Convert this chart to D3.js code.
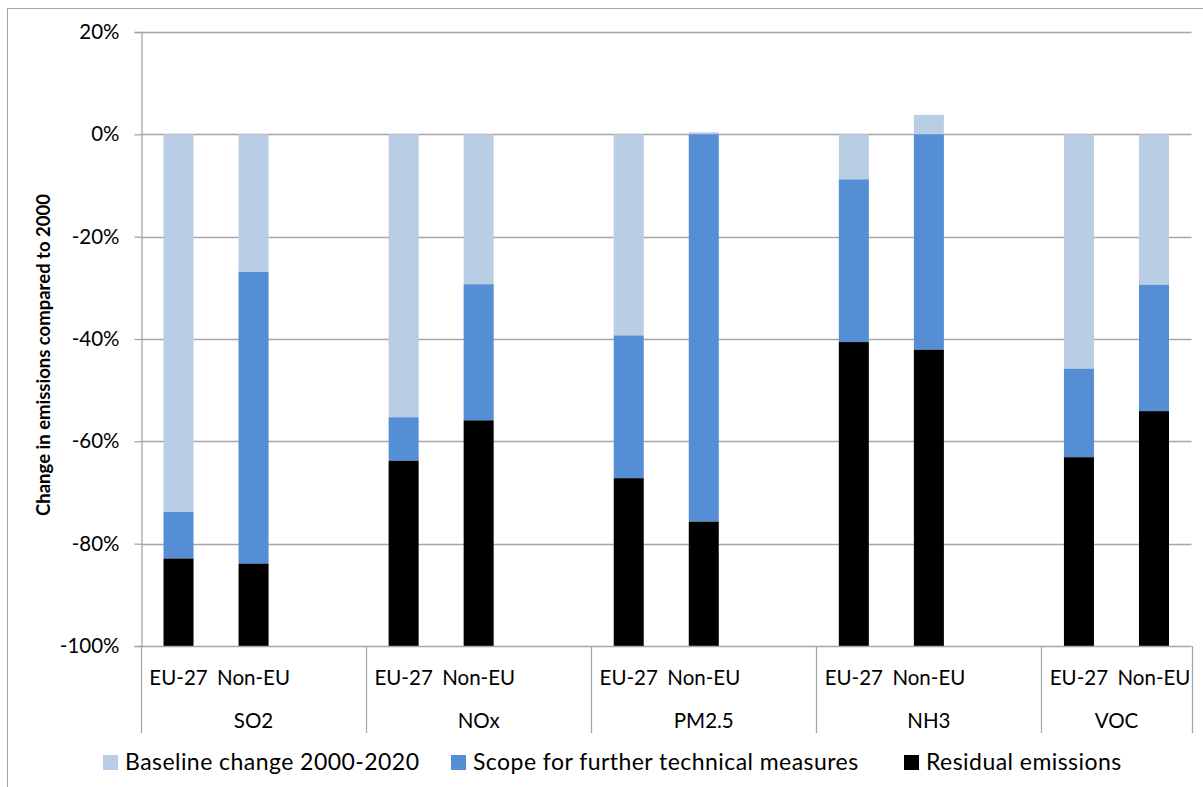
<!DOCTYPE html>
<html>
<head>
<meta charset="utf-8">
<script src="https://cdn.jsdelivr.net/npm/d3@7"></script>
<style>
  html, body { margin: 0; padding: 0; background: #fff; }
  svg { display: block; }
  text { font-family: Lato, "Open Sans", sans-serif; fill: #000; }
</style>
</head>
<body>
<script>
// ---- Data ----
const pollutants = ["SO2", "NOx", "PM2.5", "NH3", "VOC"];
const regions = ["EU-27", "Non-EU"];
const seriesNames = ["Baseline change 2000-2020", "Scope for further technical measures", "Residual emissions"];
// values per bar, order: SO2 EU, SO2 Non-EU, NOx EU, NOx Non-EU, PM2.5 EU, PM2.5 Non-EU, NH3 EU, NH3 Non-EU, VOC EU, VOC Non-EU (in %)
const baselineChange = [-73.8, -26.9, -55.3, -29.3, -39.3, 0.4, -8.8, 3.8, -45.8, -29.4];
const scopeTechnical = [-9.1, -57.0, -8.5, -26.6, -27.9, -75.7, -31.8, -42.1, -17.3, -24.7];
const residualEmissions = [-17.1, -16.1, -36.2, -44.1, -32.8, -24.3, -59.4, -57.9, -36.9, -45.9];
const yTicks = [20, 0, -20, -40, -60, -80, -100];
const colors = ["#B9CDE5", "#558ED5", "#000000"];

// ---- Layout ----
const W = 1203, H = 787;
const plot = { left: 141, right: 1191.5, top: 32, bottom: 646 };
const gridColor = "#a6a6a6";

const svg = d3.select("body").append("svg").attr("width", W).attr("height", H);

// outer chart border
svg.append("rect").attr("x", 7.5).attr("y", 8.5).attr("width", 1300).attr("height", 900)
  .attr("fill", "none").attr("stroke", gridColor).attr("stroke-width", 1);

// slots: each pollutant has EU, Non-EU, blank; last pollutant has no trailing blank
const rows = [];
pollutants.forEach((p, gi) => {
  regions.forEach((r, ri) => {
    const i = gi * 2 + ri;
    rows.push({ key: p + "|" + r, pollutant: p, region: r, slot: gi * 3 + ri,
      s0: baselineChange[i], s1: scopeTechnical[i], s2: residualEmissions[i] });
  });
});
const nSlots = pollutants.length * 3 - 1;

const x = d3.scaleBand().domain(d3.range(nSlots))
  .range([plot.left, plot.right]).paddingInner(0.6).paddingOuter(0.3);
const y = d3.scaleLinear().domain([-100, 20]).range([plot.bottom, plot.top]);

// gridlines
svg.append("g").selectAll("line").data(yTicks.filter(t => t !== -100)).join("line")
  .attr("x1", plot.left).attr("x2", plot.right)
  .attr("y1", d => Math.round(y(d)) + 0.5).attr("y2", d => Math.round(y(d)) + 0.5)
  .attr("stroke", gridColor).attr("stroke-width", 1.3);

// y axis
const yAxis = d3.axisLeft(y).tickValues(yTicks).tickSize(7).tickPadding(15)
  .tickFormat(d => d + "%");
const gy = svg.append("g").attr("transform", `translate(${plot.left + 0.5},0)`).call(yAxis);
gy.select(".domain").attr("stroke", gridColor).attr("stroke-width", 1.3);
gy.selectAll(".tick line").attr("stroke", gridColor).attr("stroke-width", 1.3);
gy.selectAll(".tick text").style("font-family", "Lato, sans-serif").attr("font-size", 20.5).attr("fill", "#000");

// stacked bars
const stack = d3.stack().keys(["s0", "s1", "s2"]).offset(d3.stackOffsetDiverging);
const stacked = stack(rows);
svg.append("g").selectAll("g").data(stacked).join("g")
  .attr("fill", (d, i) => colors[i])
  .selectAll("rect").data(d => d).join("rect")
  .attr("x", d => x(d.data.slot))
  .attr("width", x.bandwidth())
  .attr("y", d => y(Math.max(d[0], d[1])))
  .attr("height", d => Math.abs(y(d[0]) - y(d[1])));

// x axis line
svg.append("line").attr("x1", plot.left).attr("x2", plot.right)
  .attr("y1", plot.bottom + 0.5).attr("y2", plot.bottom + 0.5)
  .attr("stroke", gridColor).attr("stroke-width", 1.3);

// group separators
const groupEdges = pollutants.map((p, gi) => plot.left + gi * 3 * x.step());
groupEdges.push(plot.right);
svg.append("g").selectAll("line").data(groupEdges).join("line")
  .attr("x1", d => Math.round(d) + 0.5).attr("x2", d => Math.round(d) + 0.5)
  .attr("y1", plot.bottom).attr("y2", 733)
  .attr("stroke", gridColor).attr("stroke-width", 1.3);

// region labels
svg.append("g").selectAll("text").data(rows).join("text")
  .attr("x", d => x(d.slot) + x.bandwidth() / 2)
  .attr("y", 684.5)
  .attr("text-anchor", "middle").attr("font-size", 20.5)
  .text(d => d.region);

// pollutant labels
svg.append("g").selectAll("text").data(pollutants).join("text")
  .attr("x", (d, i) => (groupEdges[i] + groupEdges[i + 1]) / 2)
  .attr("y", 727.5)
  .attr("text-anchor", "middle").attr("font-size", 20.5)
  .text(d => d);

// y-axis title
svg.append("text")
  .attr("transform", "translate(50,355) rotate(-90)")
  .attr("text-anchor", "middle").attr("font-size", 18.5).attr("font-weight", "bold")
  .text("Change in emissions compared to 2000");

// legend
const legendX = [103, 451, 904];
const lg = svg.append("g").selectAll("g").data(seriesNames).join("g")
  .attr("transform", (d, i) => `translate(${legendX[i]},755)`);
lg.append("rect").attr("width", 15).attr("height", 15).attr("fill", (d, i) => colors[i]);
lg.append("text").attr("x", 22).attr("y", 15).attr("font-size", 23)
  .attr("letter-spacing", 0.45).text(d => d);
</script>
</body>
</html>
